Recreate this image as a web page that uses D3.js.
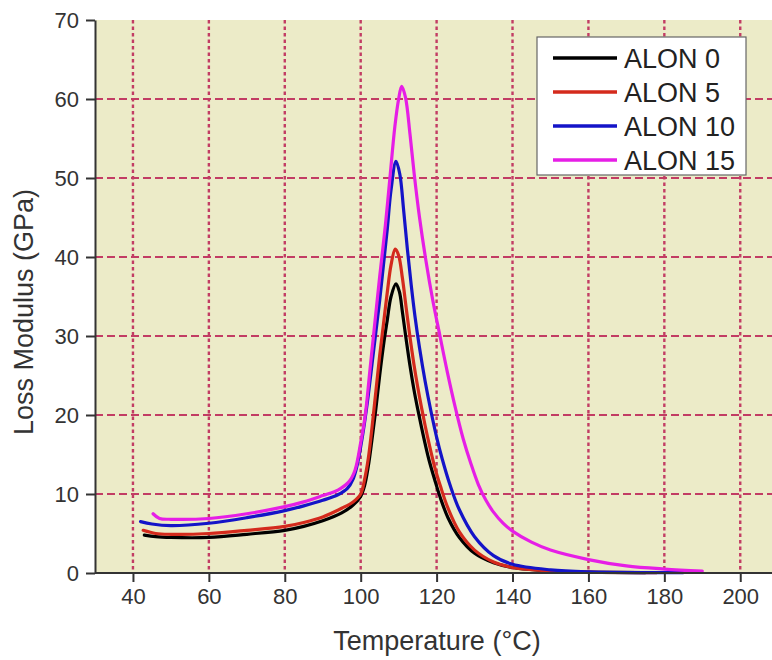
<!DOCTYPE html>
<head>
  <meta charset="utf-8">
  <script src="https://d3js.org/d3.v7.min.js"></script>
  <style>
    body { margin:0; background:#fff; }

    text {
      font-family: 'Liberation Sans', Arial, sans-serif;
      fill: #333;
    }

    .axis line, .axis path {
      stroke: #333;
      stroke-width: 2;
    }

    .axis text {
      font-size: 22px;
    }

    .grid-h {
      stroke: #c23c64;
      stroke-width: 2.2;
      stroke-dasharray: 8,4;
    }

    .grid-v {
      stroke: #c23c64;
      stroke-width: 2.4;
      stroke-dasharray: 3.5,3;
    }

    .curve {
      fill: none;
      stroke-width: 3.2;
      stroke-linejoin: round;
      stroke-linecap: round;
    }

    .axis-title {
      font-size: 27px;
    }

    .legend text {
      font-size: 27px;
      fill: #222;
    }
  </style>
</head>

<body>
  <script>
    // series names and colours
    var seriesNames = ["ALON 0", "ALON 5", "ALON 10", "ALON 15"];
    var seriesColours = ["#000000", "#d42a1c", "#1414c8", "#e61ee6"];

    // [temperature (°C), loss modulus (GPa)]
    var alon0 = [[43,4.8],[46,4.6],[50,4.5],[60,4.5],[70,4.9],[80,5.4],[85,5.9],[90,6.6],[95,7.6],[98,8.6],
      [100,9.7],[101,11],[102,13.5],[103,17],[104,20.8],[105,25],[106,28.8],[107,32],[108,35],[109.3,36.6],
      [110.2,35.6],[111,33],[112,29.5],[113,26.2],[114,23.3],[115,20.8],[116,18.5],[117,16.3],[118,14.3],
      [119.5,11.8],[121,9.5],[123,7],[126,4.5],[130,2.5],[135,1.3],[140,0.7],[150,0.25],[160,0.1],[175,0.05]];

    var alon5 = [[42.7,5.4],[46,5.0],[50,4.9],[60,5.0],[70,5.4],[80,5.9],[85,6.4],[90,7.1],[95,8.2],[98,9.0],
      [100,10],[101,11.8],[102,14.5],[103,18.5],[104,23],[105,27.5],[106,31.5],[107,35.5],[108,39],[109.1,41],
      [110,40.2],[111,37.3],[112,33.5],[113,29.8],[114,26.5],[115,23.6],[116,21],[117,18.6],[118,16.4],
      [119.5,13.4],[121,11],[123,8.2],[126,5.2],[130,2.9],[135,1.4],[140,0.7],[150,0.25],[160,0.1],[178,0.05]];

    var alon10 = [[42,6.5],[45,6.2],[50,6.0],[60,6.3],[70,7.0],[80,7.9],[85,8.5],[90,9.2],[94,9.9],[96.5,10.7],
      [98,11.9],[99,13.5],[100,16],[101,19],[102,22.5],[103,26.5],[104,30.5],[105,34.5],[106,39],[107,43.5],
      [108,48.5],[109.3,52.1],[110.3,50.5],[111.3,46],[112.3,41],[113.3,36.5],[114.3,32.5],[115.5,28.5],
      [117,24.2],[118.5,20.5],[120,17.2],[121.5,14.4],[123.5,11.2],[126,8],[130,4.6],[135,2.2],[140,1.1],
      [150,0.4],[160,0.15],[185,0.05]];

    var alon15 = [[45.3,7.5],[47,6.9],[50,6.8],[60,6.9],[70,7.5],[80,8.4],[85,9.0],[90,9.8],[94,10.5],[97,11.6],
      [98.5,13],[100,16.5],[101.2,20],[102.5,26],[103.8,32],[105,37.5],[106.5,44],[107.7,50],[109,56.5],[110,60],
      [110.8,61.6],[111.8,60.2],[113,55.5],[114.1,50.5],[115.5,45],[117.2,39.5],[119,34.5],[120.8,30.2],
      [122.8,25.5],[124.9,21],[127,17],[129,13.9],[131,11.2],[133,9.2],[135,7.7],[137.5,6.3],[140,5.3],
      [145,3.9],[150,2.9],[160,1.7],[170,0.9],[180,0.5],[190,0.25]];

    var xTicks = [40, 60, 80, 100, 120, 140, 160, 180, 200];
    var yTicks = [0, 10, 20, 30, 40, 50, 60, 70];

    var allSeries = [alon0, alon5, alon10, alon15];

    var svgWidth = 772, svgHeight = 660;
    var plot = {left: 95, top: 20, bottom: 573, right: 782};

    var svg = d3.select("body").append("svg")
      .attr("width", svgWidth)
      .attr("height", svgHeight);

    var x = d3.scaleLinear()
      .domain([30, 211])
      .range([plot.left, plot.right]);

    var y = d3.scaleLinear()
      .domain([0, 70])
      .range([plot.bottom, plot.top]);

    // background
    svg.append("rect")
      .attr("x", plot.left)
      .attr("y", plot.top)
      .attr("width", plot.right - plot.left)
      .attr("height", plot.bottom - plot.top)
      .style("fill", "#ecebc8");

    // grid
    svg.append("g").selectAll("line")
      .data(yTicks.filter(d => d > 0 && d < 70))
      .enter().append("line")
        .attr("class", "grid-h")
        .attr("x1", plot.left)
        .attr("x2", plot.right)
        .attr("y1", d => y(d))
        .attr("y2", d => y(d));

    svg.append("g").selectAll("line")
      .data(xTicks)
      .enter().append("line")
        .attr("class", "grid-v")
        .attr("x1", d => x(d))
        .attr("x2", d => x(d))
        .attr("y1", plot.top)
        .attr("y2", plot.bottom);

    // curves
    var line = d3.line()
      .x(d => x(d[0]))
      .y(d => y(d[1]))
      .curve(d3.curveCatmullRom.alpha(0.5));

    svg.append("g").selectAll("path")
      .data(allSeries)
      .enter().append("path")
        .attr("class", "curve")
        .attr("d", d => line(d))
        .style("stroke", (d, i) => seriesColours[i]);

    // axes
    var xAxis = d3.axisBottom(x)
      .tickValues(xTicks)
      .tickSize(9)
      .tickPadding(6)
      .tickSizeOuter(0);

    var yAxis = d3.axisLeft(y)
      .tickValues(yTicks)
      .tickSize(9)
      .tickPadding(7)
      .tickSizeOuter(0);

    var xAxisElem = svg.append("g")
      .attr("class", "axis")
      .attr("transform", "translate(0," + plot.bottom + ")")
      .call(xAxis);
    xAxisElem.select(".domain").attr("d", "M" + plot.left + ",0H" + svgWidth);

    svg.append("g")
      .attr("class", "axis")
      .attr("transform", "translate(" + plot.left + ",0)")
      .call(yAxis);

    svg.selectAll(".axis text").style("fill", "#333");

    // axis titles
    svg.append("text")
      .attr("class", "axis-title")
      .attr("x", 437)
      .attr("y", 650)
      .attr("text-anchor", "middle")
      .text("Temperature (°C)");

    svg.append("text")
      .attr("class", "axis-title")
      .attr("text-anchor", "middle")
      .attr("transform", "translate(33,312) rotate(-90)")
      .text("Loss Modulus (GPa)");

    // legend
    var legend = svg.append("g")
      .attr("class", "legend");

    legend.append("rect")
      .attr("x", 537)
      .attr("y", 37)
      .attr("width", 209)
      .attr("height", 138)
      .style("fill", "#fff")
      .style("stroke", "#666")
      .style("stroke-width", 1.2);

    var rows = legend.selectAll("g.row")
      .data(seriesNames)
      .enter().append("g")
        .attr("class", "row")
        .attr("transform", (d, i) => "translate(0," + (58 + i * 34) + ")");

    rows.append("line")
      .attr("x1", 553)
      .attr("x2", 617)
      .style("stroke", (d, i) => seriesColours[i])
      .style("stroke-width", 3.5);

    rows.append("text")
      .attr("x", 624)
      .attr("dy", "0.36em")
      .text(d => d);
  </script>
</body>
